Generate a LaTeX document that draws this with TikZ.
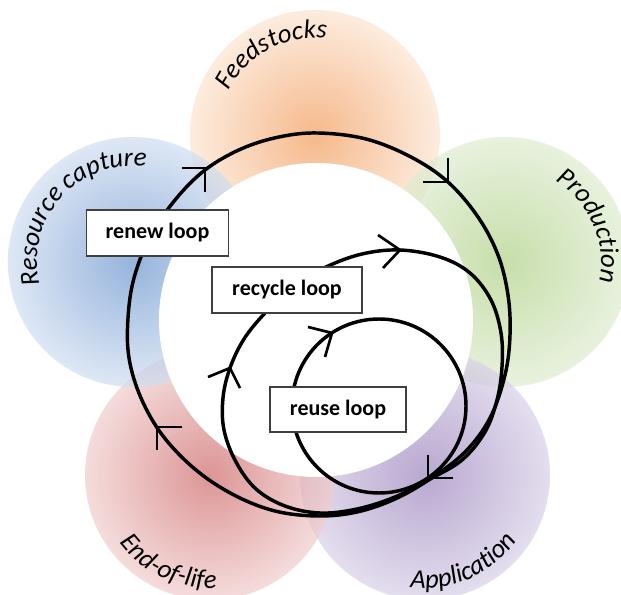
\documentclass[tikz,border=0pt]{standalone}
\usepackage{fontspec}
\setmainfont{Carlito}
\usetikzlibrary{decorations.text}

\definecolor{feedin}{RGB}{241,155,91}
\definecolor{feedout}{RGB}{252,228,208}
\definecolor{prodin}{RGB}{176,208,134}
\definecolor{prodout}{RGB}{222,236,208}
\definecolor{applin}{RGB}{155,131,188}
\definecolor{applout}{RGB}{216,208,231}
\definecolor{eolin}{RGB}{205,105,105}
\definecolor{eolout}{RGB}{241,205,205}
\definecolor{capin}{RGB}{105,148,205}
\definecolor{capout}{RGB}{208,222,241}

\tikzset{every picture/.style={line width=0.75pt}}
\tikzset{
  loopline/.style={line width=2.6pt},
  looptip/.style={line width=2pt},
  loopbox/.style={draw=black!75, line width=0.9pt, fill=white, inner sep=0pt,
    font=\bfseries\fontsize{16.5}{19}\selectfont},
  arclabel/.style={decorate, decoration={text along path, text align=center,
    text={|\itshape\fontsize{20}{24}\selectfont|#1}}}
}

\begin{document}
\begin{tikzpicture}[x=0.75pt,y=0.75pt,yscale=-1,xscale=1]
\useasboundingbox (0,0) rectangle (621,595);

%Shape: Circle (stage discs)
\shade [inner color=feedin, outer color=feedout, opacity=0.7] (315,135) circle (125);
\shade [inner color=prodin, outer color=prodout, opacity=0.7] (505,262) circle (125);
\shade [inner color=applin, outer color=applout, opacity=0.7] (425,475) circle (125);
\shade [inner color=eolin, outer color=eolout, opacity=0.7] (210,475) circle (125);
\shade [inner color=capin, outer color=capout, opacity=0.7] (133,262) circle (125);
%Shape: Circle (white middle)
\fill [white] (316,320) circle (157);

%Curve Lines: renew loop
\draw [loopline] plot [smooth cycle, tension=0.6] coordinates {
  (318,133) (366,139) (411,157) (448,182) (478,217) (498,255) (508,295)
  (510,335) (505,375) (490,418) (465,452) (430,479) (395,499) (357,512)
  (318,516) (275,511) (234,495) (196,470) (163,436) (141,398) (129,358)
  (128,318) (134,278) (150,237) (175,200) (205,170) (241,149) (279,137)};
%Curve Lines: recycle loop
\draw [loopline] plot [smooth cycle, tension=0.6] coordinates {
  (400,250) (440,257) (470,273) (491,300) (501,333) (502,367) (497,400)
  (485,432) (462,460) (430,479) (395,497) (357,509) (320,513) (285,506)
  (256,489) (236,462) (224,430) (223,398) (230,368) (244,339) (265,313)
  (293,286) (326,267) (362,254)};
%Shape: Circle (reuse loop)
\draw [loopline] (379,406) circle (87);

%Straight Lines: arrow heads
\draw [looptip] (182,168) -- (205,168) -- (205,192) ;
\draw [looptip] (423,182) -- (448,182) -- (448,158) ;
\draw [looptip] (428,455) -- (428,478) -- (453,478) ;
\draw [looptip] (182,427) -- (157,427) -- (157,450) ;
\draw [looptip] (378,235) -- (400,250) -- (383,268) ;
\draw [looptip] (208,377) -- (230,368) -- (240,388) ;
\draw [looptip] (308,327) -- (332,333) -- (325,357) ;

% Text Node
\node [loopbox, minimum width=107pt, minimum height=34.5pt] (renew) at (157.5,233) {renew loop};
% Text Node
\node [loopbox, minimum width=112.5pt, minimum height=34.5pt] (recycle) at (287,290) {recycle loop};
% Text Node
\node [loopbox, minimum width=102pt, minimum height=33.75pt] (reuse) at (338,409.5) {reuse loop};

% Text along arcs
\path [arclabel=Feedstocks] (315,135) ++(-178:97) arc (-178:-58:97);
\path [arclabel=Production] (505,262) ++(-83:96) arc (-83:37:96);
\path [arclabel={Resource capture}] (133,262) ++(-213:96) arc (-213:-63:96);
\path [arclabel=End-of-life] (210,475) ++(175:113) arc (175:55:113);
\path [arclabel=Application] (425,475) ++(126.5:113) arc (126.5:6.5:113);

\end{tikzpicture}
\end{document}
